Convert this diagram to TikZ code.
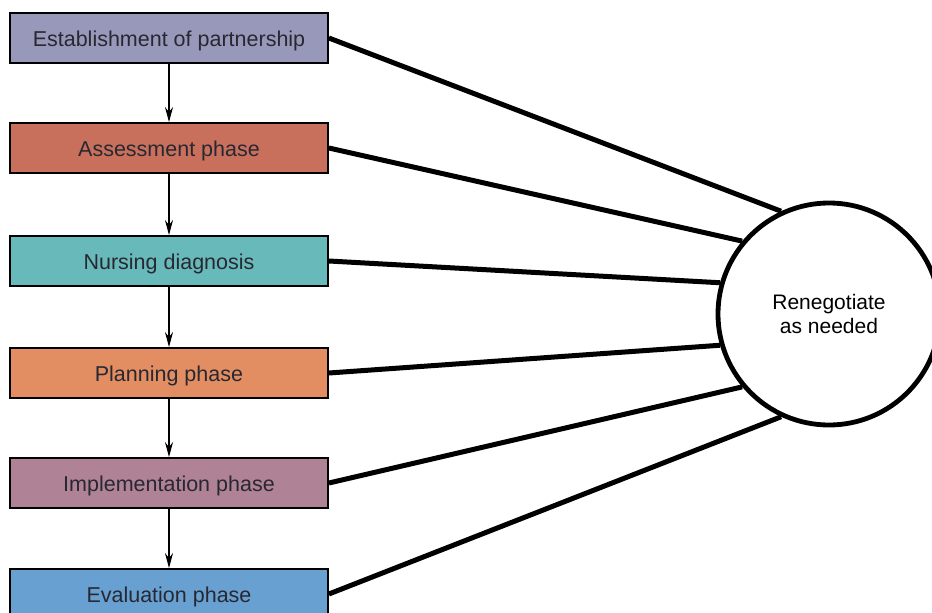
\documentclass[tikz,border=0pt]{standalone}
\usepackage{fontspec}
\setmainfont{Liberation Sans}
\usetikzlibrary{arrows.meta}
\definecolor{cEst}{RGB}{152,152,186}
\definecolor{cAss}{RGB}{201,112,92}
\definecolor{cNur}{RGB}{104,186,186}
\definecolor{cPla}{RGB}{226,142,98}
\definecolor{cImp}{RGB}{176,130,150}
\definecolor{cEva}{RGB}{104,160,210}
\definecolor{txt}{RGB}{40,40,50}
\begin{document}
\begin{tikzpicture}[x=1pt,y=-1pt,
  phase/.style={draw=black,line width=1.8pt,minimum width=318pt,minimum height=50pt,
    inner sep=0pt,text height=16pt,text depth=0pt,text=txt,
    font=\fontsize{21.5}{25}\selectfont},
  flow/.style={-{Stealth[length=15pt,width=8pt]},line width=1.4pt},
  spoke/.style={line width=5pt}]
\useasboundingbox (0,0) rectangle (932,613);
\begin{scope}
\clip (0,0) rectangle (932,613);
\node[phase,fill=cEst] (p1) at (169,38) {Establishment of partnership};
\node[phase,fill=cAss] (p2) at (169,148) {Assessment phase};
\node[phase,fill=cNur] (p3) at (169,261) {Nursing diagnosis};
\node[phase,fill=cPla] (p4) at (169,373) {Planning phase};
\node[phase,fill=cImp] (p5) at (169,483) {Implementation phase};
\node[phase,fill=cEva] (p6) at (169,594) {Evaluation phase};
\node[circle,draw=black,line width=4.8pt,minimum size=222pt,inner sep=0pt,align=center,
  font=\fontsize{21}{24}\selectfont] (r) at (829,314) {Renegotiate\\as needed};
\foreach \a/\b in {p1/p2,p2/p3,p3/p4,p4/p5,p5/p6}
  \draw[flow] (\a.south) -- (\b.north);
\draw[spoke] (p1.east) -- (r.115);
\draw[spoke] (p2.east) -- (r.140);
\draw[spoke] (p3.east) -- (r.164);
\draw[spoke] (p4.east) -- (r.196);
\draw[spoke] (p5.east) -- (r.220);
\draw[spoke] (p6.east) -- (r.245);
\end{scope}
\end{tikzpicture}
\end{document}
